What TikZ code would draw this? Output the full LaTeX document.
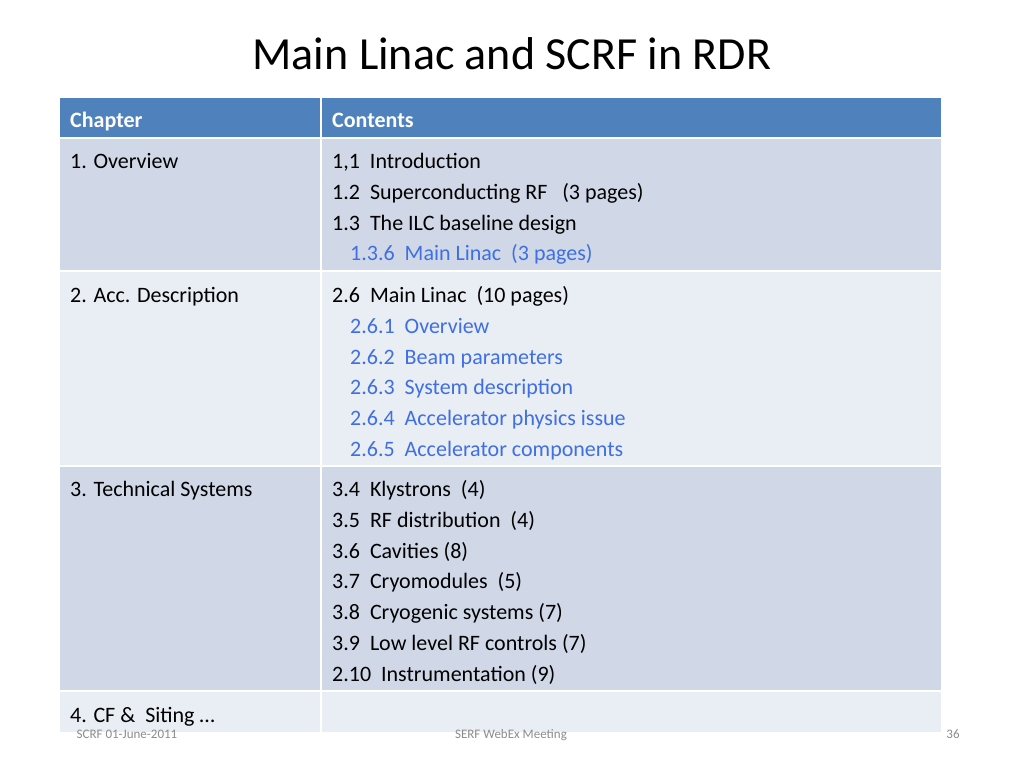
\documentclass[tikz,border=0pt]{standalone}
\usepackage{fontspec}
\setmainfont{Carlito}
\definecolor{hdr}{HTML}{4F81BD}
\definecolor{rowA}{HTML}{D0D8E8}
\definecolor{rowB}{HTML}{E9EDF4}
\definecolor{lnk}{HTML}{3F6FE0}
\definecolor{foot}{HTML}{8C8C8C}
\begin{document}
\begin{tikzpicture}[x=1pt,y=-1pt,
  txt/.style={anchor=base west,inner sep=0pt,font=\fontsize{22}{26}\selectfont},
  sub/.style={txt,text=lnk},
  hd/.style={anchor=base west,inner sep=0pt,font=\fontsize{22}{26}\selectfont\bfseries,text=white},
  ft/.style={anchor=base,inner sep=0pt,font=\fontsize{13}{15}\selectfont,text=foot},
  cell/.style={draw=white,line width=1.5pt}]
\useasboundingbox (0,0) rectangle (1024,768);
\fill[white] (0,0) rectangle (1024,768);
\node[anchor=base,inner sep=0pt,font=\fontsize{46}{50}\selectfont] (title) at (512,70) {Main Linac and SCRF in RDR};
% cells
\path[cell,fill=hdr] (59,97) rectangle (321,138);
\path[cell,fill=hdr] (321,97) rectangle (942,138);
\path[cell,fill=rowA] (59,138) rectangle (321,271);
\path[cell,fill=rowA] (321,138) rectangle (942,271);
\path[cell,fill=rowB] (59,271) rectangle (321,466);
\path[cell,fill=rowB] (321,271) rectangle (942,466);
\path[cell,fill=rowA] (59,466) rectangle (321,691);
\path[cell,fill=rowA] (321,466) rectangle (942,691);
\path[cell,fill=rowB] (59,691) rectangle (321,733);
\path[cell,fill=rowB] (321,691) rectangle (942,733);
% header
\node[hd] (h1) at (70,127) {Chapter};
\node[hd] (h2) at (332,127) {Contents};
% row 1
\node[txt] (c1) at (70,168) {1. Overview};
\node[txt] (r11) at (332,168) {1,1\ \ Introduction};
\node[txt] (r12) at (332,199) {1.2\ \ Superconducting RF\ \ \ (3 pages)};
\node[txt] (r13) at (332,230) {1.3\ \ The ILC baseline design};
\node[sub] (r14) at (350,260) {1.3.6\ \ Main Linac\ \ (3 pages)};
% row 2
\node[txt] (c2) at (70,302) {2. Acc. Description};
\node[txt] (r21) at (332,302) {2.6\ \ Main Linac\ \ (10 pages)};
\node[sub] (r22) at (350,333) {2.6.1\ \ Overview};
\node[sub] (r23) at (350,364) {2.6.2\ \ Beam parameters};
\node[sub] (r24) at (350,394) {2.6.3\ \ System description};
\node[sub] (r25) at (350,425) {2.6.4\ \ Accelerator physics issue};
\node[sub] (r26) at (350,456) {2.6.5\ \ Accelerator components};
% row 3
\node[txt] (c3) at (70,496) {3. Technical Systems};
\node[txt] (r31) at (332,496) {3.4\ \ Klystrons\ \ (4)};
\node[txt] (r32) at (332,527) {3.5\ \ RF distribution\ \ (4)};
\node[txt] (r33) at (332,558) {3.6\ \ Cavities (8)};
\node[txt] (r34) at (332,588) {3.7\ \ Cryomodules\ \ (5)};
\node[txt] (r35) at (332,619) {3.8\ \ Cryogenic systems (7)};
\node[txt] (r36) at (332,650) {3.9\ \ Low level RF controls (7)};
\node[txt] (r37) at (332,681) {2.10\ \ Instrumentation (9)};
% row 4
\node[txt] (c4) at (70,722) {4. CF \&\ \ Siting …};
% footer
\node[ft] (f1) at (127,738) {SCRF 01-June-2011};
\node[ft] (f2) at (511,738) {SERF WebEx Meeting};
\node[ft] (f3) at (953,738) {36};
\end{tikzpicture}
\end{document}
